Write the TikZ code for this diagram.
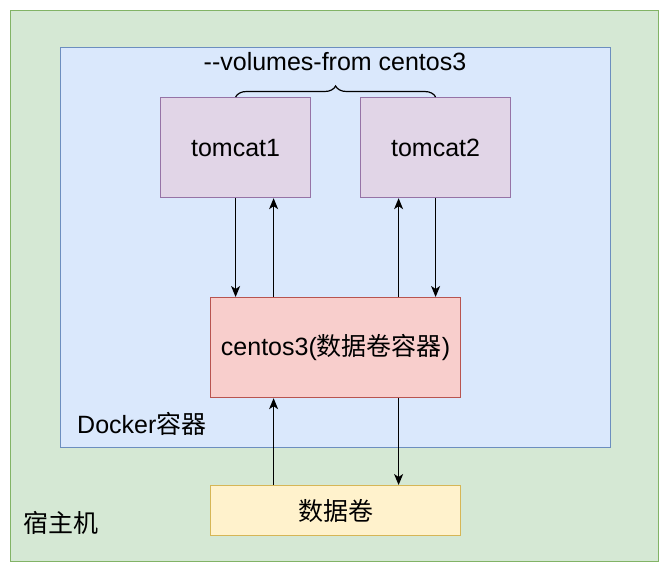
\documentclass[tikz,border=0pt]{standalone}
\usepackage{fontspec}
\setmainfont{Liberation Sans}
\newfontfamily\cjk{Noto Sans CJK SC}
\usetikzlibrary{arrows.meta,decorations.pathreplacing}
\definecolor{gfill}{HTML}{D5E8D4}\definecolor{gline}{HTML}{82B366}
\definecolor{bfill}{HTML}{DAE8FC}\definecolor{bline}{HTML}{6C8EBF}
\definecolor{pfill}{HTML}{E1D5E7}\definecolor{pline}{HTML}{9673A6}
\definecolor{rfill}{HTML}{F8CECC}\definecolor{rline}{HTML}{B85450}
\definecolor{yfill}{HTML}{FFF2CC}\definecolor{yline}{HTML}{D6B656}
\begin{document}
\begin{tikzpicture}[x=1pt,y=-1pt,
  every node/.style={font=\fontsize{25}{29}\selectfont, inner sep=0pt},
  box/.style={draw, line width=1.2pt, minimum width=#1, anchor=north west},
  arr/.style={-{Stealth[length=11pt,width=9pt,inset=3pt]}, line width=1.2pt, black},
  lbl/.style={anchor=west, text=black}]
\useasboundingbox (0,0) rectangle (669,568);
\node[box=648pt, minimum height=551pt, fill=gfill, draw=gline] (host) at (10,10) {};
\node[box=550pt, minimum height=400pt, fill=bfill, draw=bline] (docker) at (60,47) {};
\node[box=150pt, minimum height=100pt, fill=pfill, draw=pline] (t1) at (160,97) {tomcat1};
\node[box=150pt, minimum height=100pt, fill=pfill, draw=pline] (t2) at (360,97) {tomcat2};
\node[box=250pt, minimum height=100pt, fill=rfill, draw=rline] (c) at (210,297) {centos3({\cjk 数据卷容器})};
\node[box=250pt, minimum height=50pt, fill=yfill, draw=yline] (v) at (210,485) {\cjk 数据卷};
\node[lbl] (dlabel) at (77,424) {Docker{\cjk 容器}};
\node[lbl] (hlabel) at (23,523) {\cjk 宿主机};
\node (vf) at (335,62) {-{}-volumes-from centos3};
\coordinate (b1) at (t1.north);
\coordinate (b2) at (t2.north);
\draw[line width=1.2pt, decorate, decoration={brace, amplitude=11pt}] (b1) -- (b2);
% tomcat1 <-> centos3
\coordinate (a1) at ([xshift=38pt]t1.south);
\draw[arr] (t1.south) -- (t1.south |- c.north);
\draw[arr] (a1 |- c.north) -- (a1);
% tomcat2 <-> centos3
\coordinate (a2) at ([xshift=-37pt]t2.south);
\draw[arr] (a2 |- c.north) -- (a2);
\draw[arr] (t2.south) -- (t2.south |- c.north);
% centos3 <-> volume
\coordinate (a3) at ([xshift=-62pt]v.north);
\coordinate (a4) at ([xshift=63pt]c.south);
\draw[arr] (a3) -- (a3 |- c.south);
\draw[arr] (a4) -- (a4 |- v.north);
\end{tikzpicture}
\end{document}
